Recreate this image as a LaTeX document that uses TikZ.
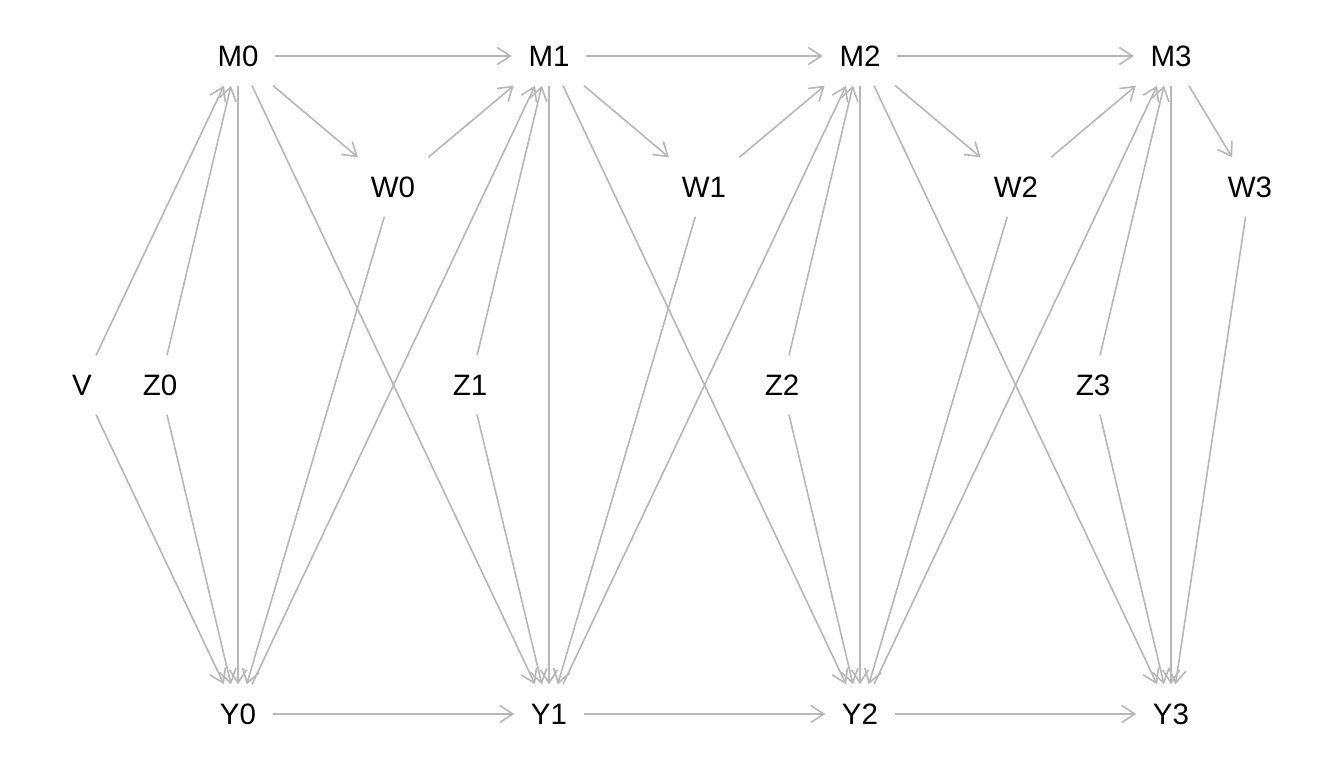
\documentclass[tikz,border=0pt]{standalone}
\usepackage{fontspec}
\setmainfont{Liberation Sans}
\usetikzlibrary{arrows.meta}
\definecolor{edgegray}{RGB}{183,183,183}
\begin{document}
\begin{tikzpicture}[x=1pt,y=-1pt,
  var/.style={font=\fontsize{29.5}{34}\selectfont, text height=21pt, text depth=0pt,
    inner xsep=16.5pt, inner ysep=19pt, draw=none},
  edge/.style={draw=edgegray, line width=1.6pt,
    -{Straight Barb[length=13pt,width=17pt,line width=1.6pt]}}]
\fill[white] (0,0) rectangle (1344,768);
\useasboundingbox (0,0) rectangle (1344,768);
% nodes
\node[var] (M0) at (238,56) {M0};
\node[var] (M1) at (549,56) {M1};
\node[var] (M2) at (860,56) {M2};
\node[var] (M3) at (1171,56) {M3};
\node[var] (W0) at (393,187) {W0};
\node[var] (W1) at (704,187) {W1};
\node[var] (W2) at (1016,187) {W2};
\node[var] (W3) at (1250,187) {W3};
\node[var] (V) at (82,385) {V};
\node[var] (Z0) at (160,385) {Z0};
\node[var] (Z1) at (470,385) {Z1};
\node[var] (Z2) at (782,385) {Z2};
\node[var] (Z3) at (1093,385) {Z3};
\node[var] (Y0) at (238,714) {Y0};
\node[var] (Y1) at (549,714) {Y1};
\node[var] (Y2) at (860,714) {Y2};
\node[var] (Y3) at (1171,714) {Y3};
% edges
\foreach \a/\b in {M0/M1,M1/M2,M2/M3,Y0/Y1,Y1/Y2,Y2/Y3,
  M0/W0,M1/W1,M2/W2,M3/W3,W0/M1,W1/M2,W2/M3,
  W0/Y0,W1/Y1,W2/Y2,W3/Y3,M0/Y0,M1/Y1,M2/Y2,M3/Y3,
  M0/Y1,M1/Y2,M2/Y3,Y0/M1,Y1/M2,Y2/M3,
  Z0/M0,Z0/Y0,Z1/M1,Z1/Y1,Z2/M2,Z2/Y2,Z3/M3,Z3/Y3,V/M0,V/Y0}
  \draw[edge] (\a) -- (\b);
\end{tikzpicture}
\end{document}
